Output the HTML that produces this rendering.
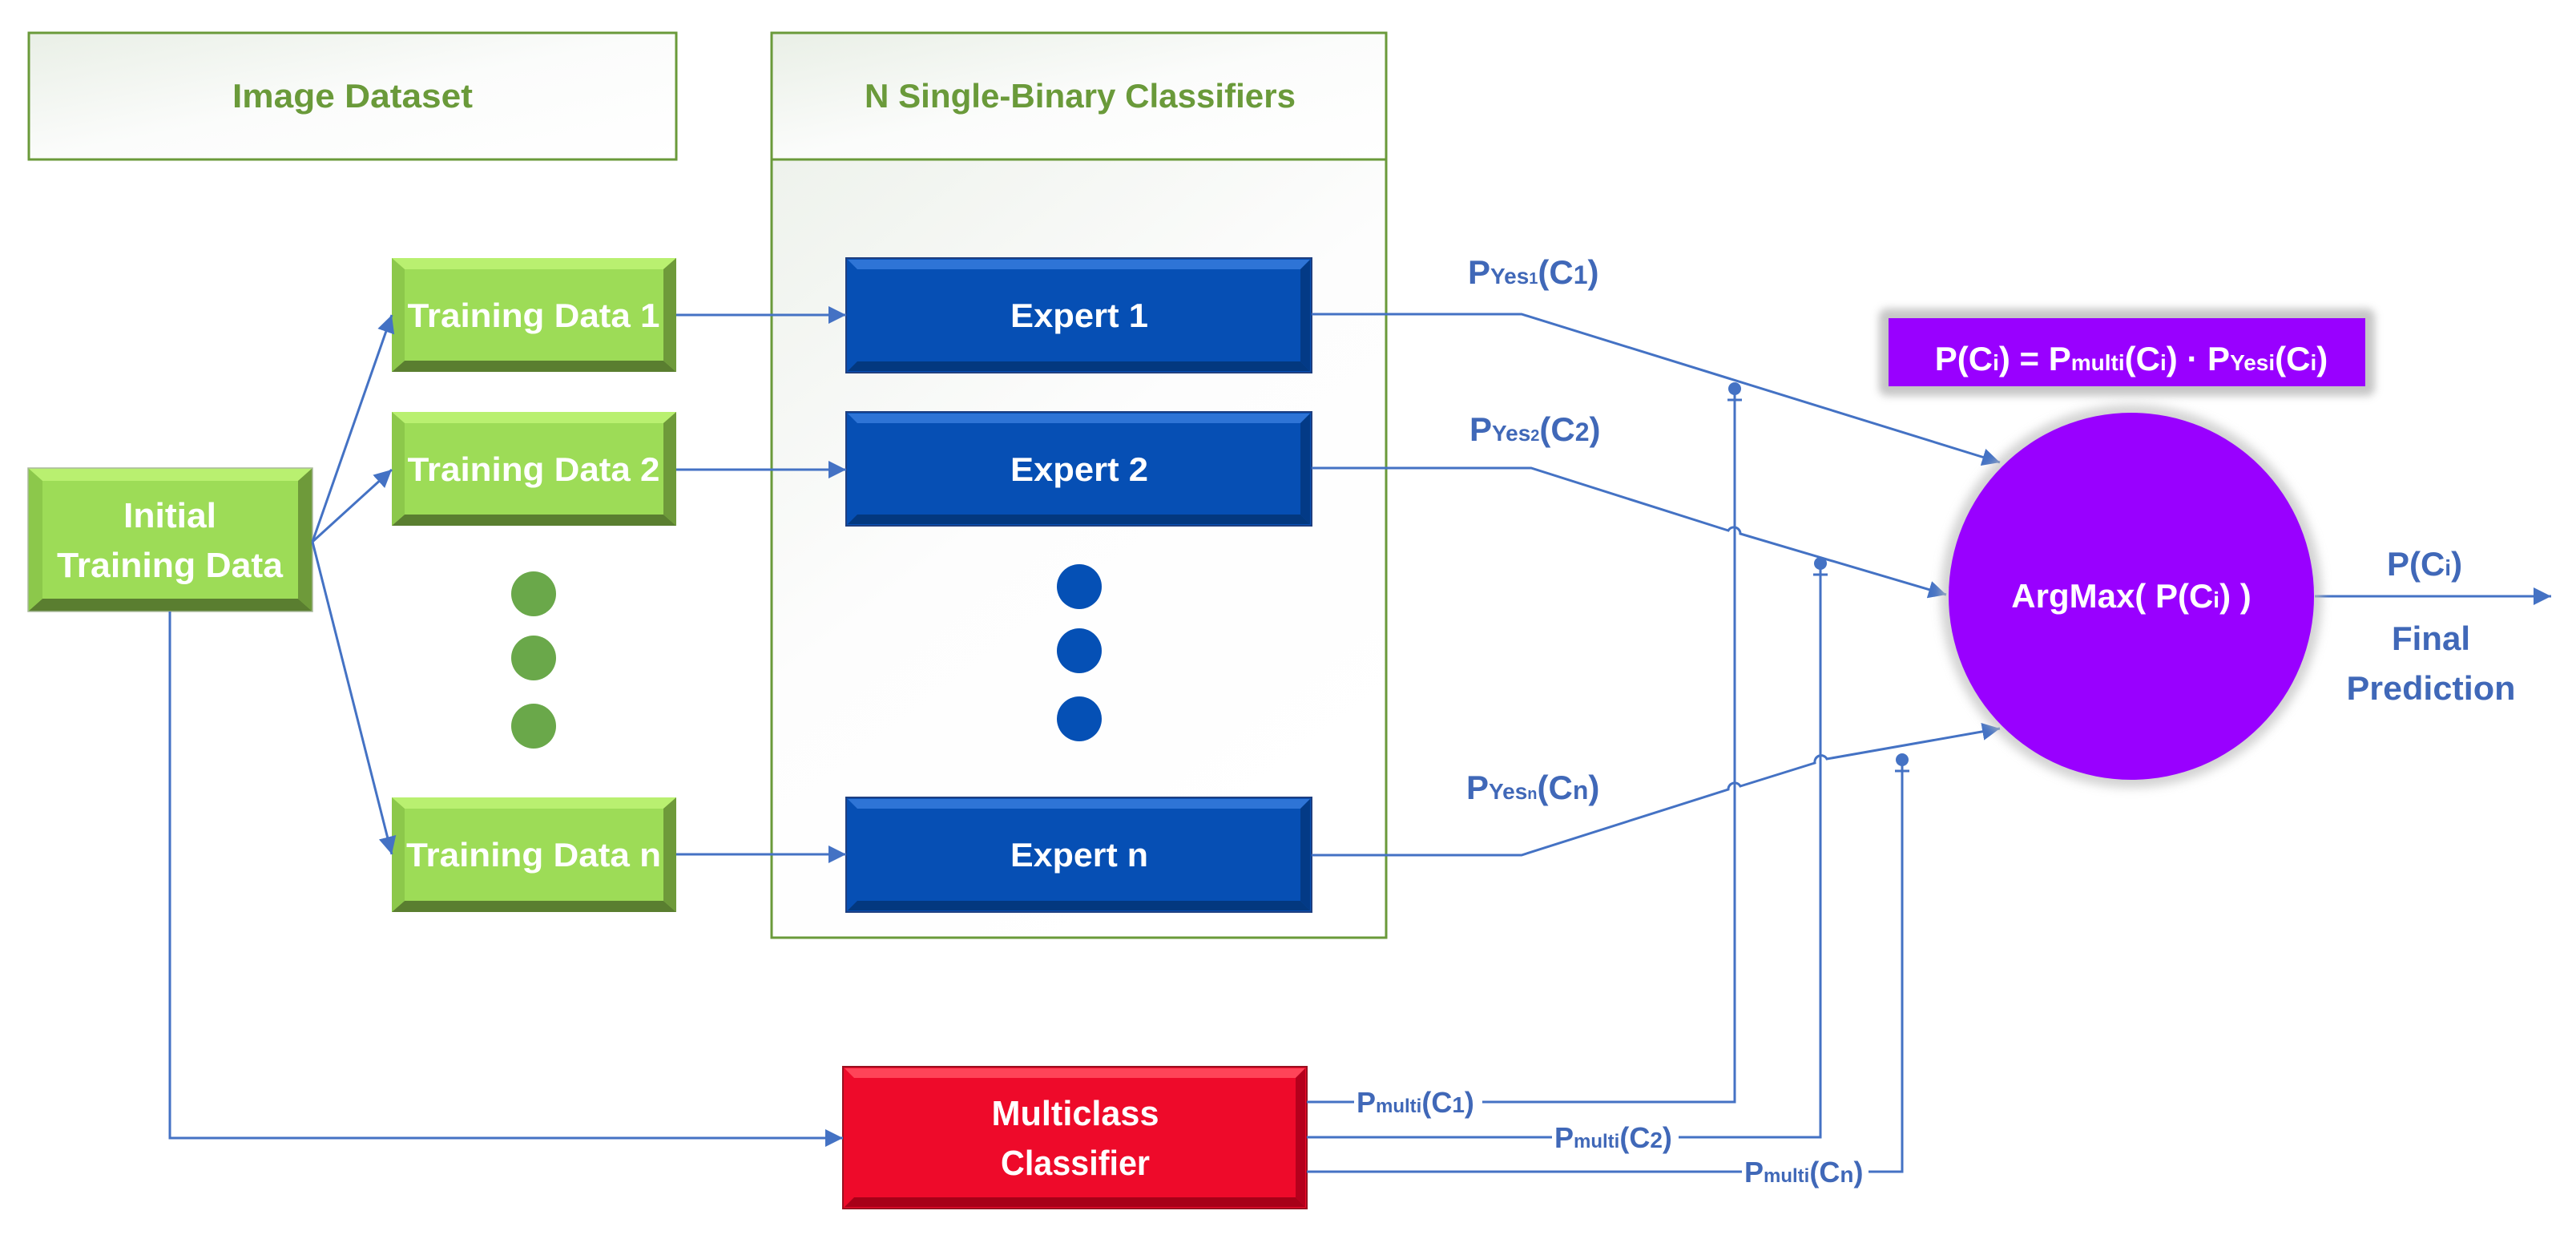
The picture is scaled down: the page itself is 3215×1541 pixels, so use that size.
<!DOCTYPE html>
<html><head><meta charset="utf-8"><style>
html,body{margin:0;padding:0;background:#fff;}
svg{display:block;}
text{font-family:"Liberation Sans",sans-serif;font-weight:bold;}
</style></head><body>
<svg width="3215" height="1541" viewBox="0 0 3215 1541" xmlns="http://www.w3.org/2000/svg">
<defs>
<linearGradient id="hdr" x1="0" y1="0" x2="1" y2="1">
<stop offset="0" stop-color="#e9efe6"/><stop offset="0.5" stop-color="#fbfcfb"/><stop offset="1" stop-color="#ffffff"/>
</linearGradient>
<linearGradient id="body" x1="0" y1="0" x2="0.6" y2="1">
<stop offset="0" stop-color="#eef2ec"/><stop offset="0.5" stop-color="#fdfdfd"/><stop offset="1" stop-color="#ffffff"/>
</linearGradient>
<marker id="a" viewBox="0 0 10 10" refX="10" refY="5" markerWidth="22" markerHeight="22" markerUnits="userSpaceOnUse" orient="auto">
<path d="M0,0 L10,5 L0,10 z" fill="#4472C4"/></marker>
<filter id="sh" x="-10%" y="-30%" width="120%" height="160%"><feGaussianBlur stdDeviation="5"/></filter>
<filter id="sh2" x="-10%" y="-10%" width="120%" height="120%"><feGaussianBlur stdDeviation="6"/></filter>
</defs>

<rect x="36" y="41" width="808" height="158" fill="url(#hdr)" stroke="#6A9A3A" stroke-width="3"/>
<text x="440" y="134" font-size="42" fill="#6A9A3A" text-anchor="middle" textLength="300" lengthAdjust="spacingAndGlyphs">Image Dataset</text>
<rect x="963" y="199" width="767" height="971" fill="url(#body)" stroke="#6A9A3A" stroke-width="3"/>
<rect x="963" y="41" width="767" height="158" fill="url(#hdr)" stroke="#6A9A3A" stroke-width="3"/>
<text x="1348" y="134" font-size="42" fill="#6A9A3A" text-anchor="middle" textLength="538" lengthAdjust="spacingAndGlyphs">N Single-Binary Classifiers</text>

<g>
<rect x="35" y="584" width="355" height="179" fill="#9DDC57"/>
<polygon points="35,584 390,584 372,600 53,600" fill="#B9F070"/>
<polygon points="35,763 390,763 372,747 53,747" fill="#5A7E30"/>
<polygon points="35,584 53,600 53,747 35,763" fill="#8CC84B"/>
<polygon points="390,584 372,600 372,747 390,763" fill="#6E9A3A"/>
<rect x="35" y="584" width="355" height="179" fill="none" stroke="#a8b89a" stroke-width="1.5"/>
<text x="212" y="658" font-size="44" fill="#fff" text-anchor="middle" textLength="116" lengthAdjust="spacingAndGlyphs">Initial</text>
<text x="212" y="720" font-size="44" fill="#fff" text-anchor="middle" textLength="282" lengthAdjust="spacingAndGlyphs">Training Data</text>
</g>
<g>
<rect x="489" y="322" width="355" height="142" fill="#9DDC57"/>
<polygon points="489,322 844,322 828,336 505,336" fill="#B9F070"/>
<polygon points="489,464 844,464 828,450 505,450" fill="#5A7E30"/>
<polygon points="489,322 505,336 505,450 489,464" fill="#8CC84B"/>
<polygon points="844,322 828,336 828,450 844,464" fill="#6E9A3A"/>
<text x="666" y="408" font-size="42" fill="#fff" text-anchor="middle" textLength="315" lengthAdjust="spacingAndGlyphs">Training Data 1</text>
</g>
<g>
<rect x="489" y="514" width="355" height="142" fill="#9DDC57"/>
<polygon points="489,514 844,514 828,528 505,528" fill="#B9F070"/>
<polygon points="489,656 844,656 828,642 505,642" fill="#5A7E30"/>
<polygon points="489,514 505,528 505,642 489,656" fill="#8CC84B"/>
<polygon points="844,514 828,528 828,642 844,656" fill="#6E9A3A"/>
<text x="666" y="600" font-size="42" fill="#fff" text-anchor="middle" textLength="315" lengthAdjust="spacingAndGlyphs">Training Data 2</text>
</g>
<g>
<rect x="489" y="995" width="355" height="143" fill="#9DDC57"/>
<polygon points="489,995 844,995 828,1009 505,1009" fill="#B9F070"/>
<polygon points="489,1138 844,1138 828,1124 505,1124" fill="#5A7E30"/>
<polygon points="489,995 505,1009 505,1124 489,1138" fill="#8CC84B"/>
<polygon points="844,995 828,1009 828,1124 844,1138" fill="#6E9A3A"/>
<text x="666" y="1081" font-size="42" fill="#fff" text-anchor="middle" textLength="318" lengthAdjust="spacingAndGlyphs">Training Data n</text>
</g>
<circle cx="666" cy="741" r="28" fill="#6AA84A"/>
<circle cx="666" cy="821" r="28" fill="#6AA84A"/>
<circle cx="666" cy="906" r="28" fill="#6AA84A"/>

<g>
<rect x="1056" y="322" width="581" height="143" fill="#064FB4" stroke="#1F3F80" stroke-width="2"/>
<polygon points="1058,324 1635,324 1623,336 1070,336" fill="#2E74D6"/>
<polygon points="1058,463 1635,463 1623,451 1070,451" fill="#03387F"/>
<polygon points="1623,336 1635,324 1635,463 1623,451" fill="#033A86"/>
<text x="1347" y="408" font-size="42" fill="#fff" text-anchor="middle" textLength="172" lengthAdjust="spacingAndGlyphs">Expert 1</text>
</g>
<g>
<rect x="1056" y="514" width="581" height="142" fill="#064FB4" stroke="#1F3F80" stroke-width="2"/>
<polygon points="1058,516 1635,516 1623,528 1070,528" fill="#2E74D6"/>
<polygon points="1058,654 1635,654 1623,642 1070,642" fill="#03387F"/>
<polygon points="1623,528 1635,516 1635,654 1623,642" fill="#033A86"/>
<text x="1347" y="600" font-size="42" fill="#fff" text-anchor="middle" textLength="172" lengthAdjust="spacingAndGlyphs">Expert 2</text>
</g>
<g>
<rect x="1056" y="995" width="581" height="143" fill="#064FB4" stroke="#1F3F80" stroke-width="2"/>
<polygon points="1058,997 1635,997 1623,1009 1070,1009" fill="#2E74D6"/>
<polygon points="1058,1136 1635,1136 1623,1124 1070,1124" fill="#03387F"/>
<polygon points="1623,1009 1635,997 1635,1136 1623,1124" fill="#033A86"/>
<text x="1347" y="1081" font-size="42" fill="#fff" text-anchor="middle" textLength="172" lengthAdjust="spacingAndGlyphs">Expert n</text>
</g>
<circle cx="1347" cy="732" r="28" fill="#0550B5"/>
<circle cx="1347" cy="812" r="28" fill="#0550B5"/>
<circle cx="1347" cy="897" r="28" fill="#0550B5"/>

<g>
<rect x="1052" y="1331" width="579" height="177" fill="#EE0A2A" stroke="#9a1020" stroke-width="2"/>
<polygon points="1054,1333 1629,1333 1617,1345 1066,1345" fill="#FF4458"/>
<polygon points="1054,1506 1629,1506 1617,1494 1066,1494" fill="#A80018"/>
<polygon points="1617,1345 1629,1333 1629,1506 1617,1494" fill="#B5001C"/>
<text x="1342" y="1404" font-size="44" fill="#fff" text-anchor="middle" textLength="209" lengthAdjust="spacingAndGlyphs">Multiclass</text>
<text x="1342" y="1466" font-size="44" fill="#fff" text-anchor="middle" textLength="186" lengthAdjust="spacingAndGlyphs">Classifier</text>
</g>

<g stroke="#4472C4" stroke-width="3" fill="none">
<path d="M390,676 L489,393" marker-end="url(#a)"/>
<path d="M390,676 L489,586" marker-end="url(#a)"/>
<path d="M390,676 L489,1066" marker-end="url(#a)"/>
<path d="M844,393 L1056,393" marker-end="url(#a)"/>
<path d="M844,586 L1056,586" marker-end="url(#a)"/>
<path d="M844,1066 L1056,1066" marker-end="url(#a)"/>
<path d="M212,763 L212,1420 L1052,1420" marker-end="url(#a)"/>
<path d="M1637,392 L1899,392 L2496,577" marker-end="url(#a)"/>
<path d="M1637,584 L1911,584 L2157,662 A8,8 0 0 1 2172,666 L2429,742" marker-end="url(#a)"/>
<path d="M1637,1067 L1899,1067 L2157,985 A8,8 0 0 1 2172,981 L2265,952 A8,8 0 0 1 2280,947 L2496,909" marker-end="url(#a)"/>
<path d="M2889,744 L3184,744" marker-end="url(#a)"/>
<path d="M1631,1375 L2165,1375 L2165,485"/>
<path d="M1631,1419 L2272,1419 L2272,703"/>
<path d="M1631,1462 L2374,1462 L2374,948"/>
<path d="M2156,499 h18 M2263,717 h18 M2365,962 h18"/>
</g>
<g fill="#4472C4">
<circle cx="2165" cy="485" r="8"/><circle cx="2272" cy="703" r="8"/><circle cx="2374" cy="948" r="8"/>
</g>

<g fill="#4068B8">
<text x="1832" y="354" font-size="42">P<tspan font-size="28">Yes</tspan><tspan font-size="20">1</tspan>(C<tspan font-size="32">1</tspan>)</text>
<text x="1834" y="550" font-size="42">P<tspan font-size="28">Yes</tspan><tspan font-size="20">2</tspan>(C<tspan font-size="32">2</tspan>)</text>
<text x="1830" y="997" font-size="42">P<tspan font-size="28">Yes</tspan><tspan font-size="20">n</tspan>(C<tspan font-size="32">n</tspan>)</text>
<rect x="1690" y="1352" width="160" height="44" fill="#fff"/>
<rect x="1937" y="1396" width="158" height="44" fill="#fff"/>
<rect x="2174" y="1440" width="158" height="44" fill="#fff"/>
<text x="1693" y="1388" font-size="36">P<tspan font-size="24">multi</tspan>(C<tspan font-size="28">1</tspan>)</text>
<text x="1940" y="1432" font-size="36">P<tspan font-size="24">multi</tspan>(C<tspan font-size="28">2</tspan>)</text>
<text x="2177" y="1475" font-size="36">P<tspan font-size="24">multi</tspan>(C<tspan font-size="28">n</tspan>)</text>
<text x="3026" y="718" font-size="42" text-anchor="middle">P(C<tspan font-size="28">i</tspan>)</text>
<text x="3034" y="811" font-size="42" text-anchor="middle">Final</text>
<text x="3034" y="873" font-size="42" text-anchor="middle" textLength="211" lengthAdjust="spacingAndGlyphs">Prediction</text>
</g>

<rect x="2345" y="385" width="619" height="109" rx="10" fill="#b8b8b8" opacity="0.8" filter="url(#sh)"/>
<rect x="2357" y="397" width="595" height="85" fill="#9900FF"/>
<text x="2660" y="462" font-size="42" fill="#fff" text-anchor="middle">P(C<tspan font-size="28">i</tspan>) = P<tspan font-size="28">multi</tspan>(C<tspan font-size="28">i</tspan>) · P<tspan font-size="28">Yesi</tspan>(C<tspan font-size="28">i</tspan>)</text>

<ellipse cx="2660" cy="744" rx="238" ry="239" fill="#c0c0c0" opacity="0.7" filter="url(#sh2)"/>
<ellipse cx="2660" cy="744" rx="228" ry="229" fill="#9900FF"/>
<text x="2660" y="758" font-size="42" fill="#fff" text-anchor="middle">ArgMax( P(C<tspan font-size="28">i</tspan>) )</text>
</svg>
</body></html>
